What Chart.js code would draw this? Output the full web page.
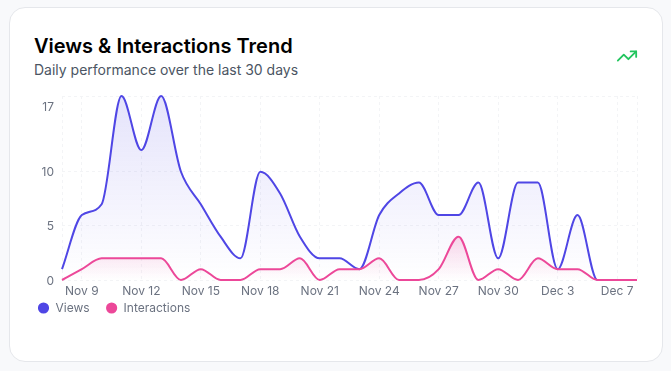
<!DOCTYPE html>
<html>
<head>
<meta charset="utf-8">
<script src="https://cdn.jsdelivr.net/npm/chart.js@4"></script>
<style>
  html, body { margin: 0; padding: 0; background: #f8f9fb; }
  body { width: 671px; height: 371px; position: relative; overflow: hidden; font-family: Inter, sans-serif; }
  .card { position: absolute; left: 9px; top: 7px; width: 652px; height: 353px; background: #fff; border: 1px solid #e5e7eb; border-radius: 16px; }
  h1 { position: absolute; left: 34px; top: 34px; margin: 0; font-size: 20px; line-height: 24px; font-weight: 600; color: #000; }
  p { position: absolute; left: 34px; top: 60px; margin: 0; font-size: 14px; line-height: 20px; color: #4b5563; }
  svg { position: absolute; left: 616px; top: 45px; }
  canvas { position: absolute; left: 0; top: 0; }
</style>
</head>
<body>
<div class="card"></div>
<h1>Views &amp; Interactions Trend</h1>
<p>Daily performance over the last 30 days</p>
<svg width="22" height="22" viewBox="0 0 24 24" fill="none" stroke="#22c55e" stroke-width="2" stroke-linecap="round" stroke-linejoin="round">
  <polyline points="22 7 13.5 15.5 8.5 10.5 2 17"></polyline>
  <polyline points="16 7 22 7 22 13"></polyline>
</svg>
<canvas id="myChart" width="671" height="371"></canvas>
<script>
const dates = ['Nov 8','Nov 9','Nov 10','Nov 11','Nov 12','Nov 13','Nov 14','Nov 15','Nov 16','Nov 17','Nov 18','Nov 19','Nov 20','Nov 21','Nov 22','Nov 23','Nov 24','Nov 25','Nov 26','Nov 27','Nov 28','Nov 29','Nov 30','Dec 1','Dec 2','Dec 3','Dec 4','Dec 5','Dec 7','Dec 8'];
const views = [1,6,7,17,12,17,10,7,4,2,10,8,4,2,2,1,6,8,9,6,6,9,2,9,9,1,6,0,0,0];
const interactions = [0,1,2,2,2,2,0,1,0,0,1,1,2,0,1,1,2,0,0,1,4,0,1,0,2,1,1,0,0,0];
const yTicks = [0,5,10,17];
const xTickDates = ['Nov 9','Nov 12','Nov 15','Nov 18','Nov 21','Nov 24','Nov 27','Nov 30','Dec 3','Dec 7'];

// vertical fade from the top of a series down to the axis
function fade(values, color, topAlpha, endAlpha) {
    return (context) => {
        const chart = context.chart;
        if (!chart.chartArea) return 'transparent';
        const top = chart.scales.y.getPixelForValue(Math.max(...values));
        const g = chart.ctx.createLinearGradient(0, top, 0, chart.chartArea.bottom);
        g.addColorStop(0, `rgba(${color},${topAlpha})`);
        g.addColorStop(1, `rgba(${color},${endAlpha})`);
        return g;
    };
}

const ctx = document.getElementById('myChart');
new Chart(ctx, {
    type: 'line',
    data: {
        labels: dates,
        datasets: [{
            label: 'Views',
            data: views,
            order: 2,
            clip: 1,
            borderColor: '#4f46e5',
            borderWidth: 2,
            backgroundColor: fade(views, '79,70,229', 0.15, 0),
            pointBackgroundColor: '#4f46e5',
            pointBorderColor: '#4f46e5',
            fill: 'origin',
            cubicInterpolationMode: 'monotone',
            pointRadius: 0
        }, {
            label: 'Interactions',
            data: interactions,
            order: 1,
            clip: 1,
            borderColor: '#ec4899',
            borderWidth: 2,
            backgroundColor: fade(interactions, '236,72,153', 0.2, 0),
            pointBackgroundColor: '#ec4899',
            pointBorderColor: '#ec4899',
            fill: 'origin',
            cubicInterpolationMode: 'monotone',
            pointRadius: 0
        }]
    },
    options: {
        responsive: false,
        animation: false,
        layout: { padding: { left: 21.5, right: 34, top: 96, bottom: 47 } },
        plugins: {
            tooltip: { enabled: false },
            legend: {
                position: 'bottom',
                align: 'start',
                labels: {
                    usePointStyle: true,
                    boxWidth: 12,
                    boxHeight: 6.5,
                    padding: 16,
                    color: '#6b7280',
                    font: { family: 'Inter', size: 12 },
                    sort: (a, b) => a.datasetIndex - b.datasetIndex
                }
            }
        },
        scales: {
            x: {
                grid: { color: '#f3f4f6', tickLength: 0 },
                border: { display: false, dash: [3, 3] },
                afterBuildTicks: (scale) => {
                    const idx = [0, ...xTickDates.map(d => dates.indexOf(d)), dates.length - 1];
                    scale.ticks = idx.map(v => ({ value: v }));
                },
                // labels overhang into the legend's padding, mirror stops them being clipped
                afterFit: (scale) => { scale.height = 6; },
                ticks: {
                    mirror: true,
                    maxRotation: 0,
                    padding: -19,
                    color: '#6b7280',
                    font: { family: 'Inter', size: 12 },
                    callback: function (v) {
                        const d = this.getLabelForValue(v);
                        return xTickDates.includes(d) ? d : '';
                    }
                }
            },
            y: {
                min: 0,
                max: 17,
                grid: { color: '#f3f4f6', tickLength: 0 },
                border: { display: false, dash: [3, 3] },
                afterBuildTicks: (scale) => { scale.ticks = yTicks.map(v => ({ value: v })); },
                afterFit: (scale) => { scale.width = 40.5; },
                ticks: {
                    autoSkip: false,
                    padding: 8,
                    labelOffset: 1,
                    color: '#6b7280',
                    font: (c) => ({ family: 'Inter', size: 12, lineHeight: c.tick && c.tick.value === 17 ? 1.67 : 1.2 }),
                    // top label sits below the top edge, blank first line pushes it down
                    callback: (v) => v === 17 ? ['', '17'] : String(v)
                }
            }
        }
    }
});
</script>
</body>
</html>
